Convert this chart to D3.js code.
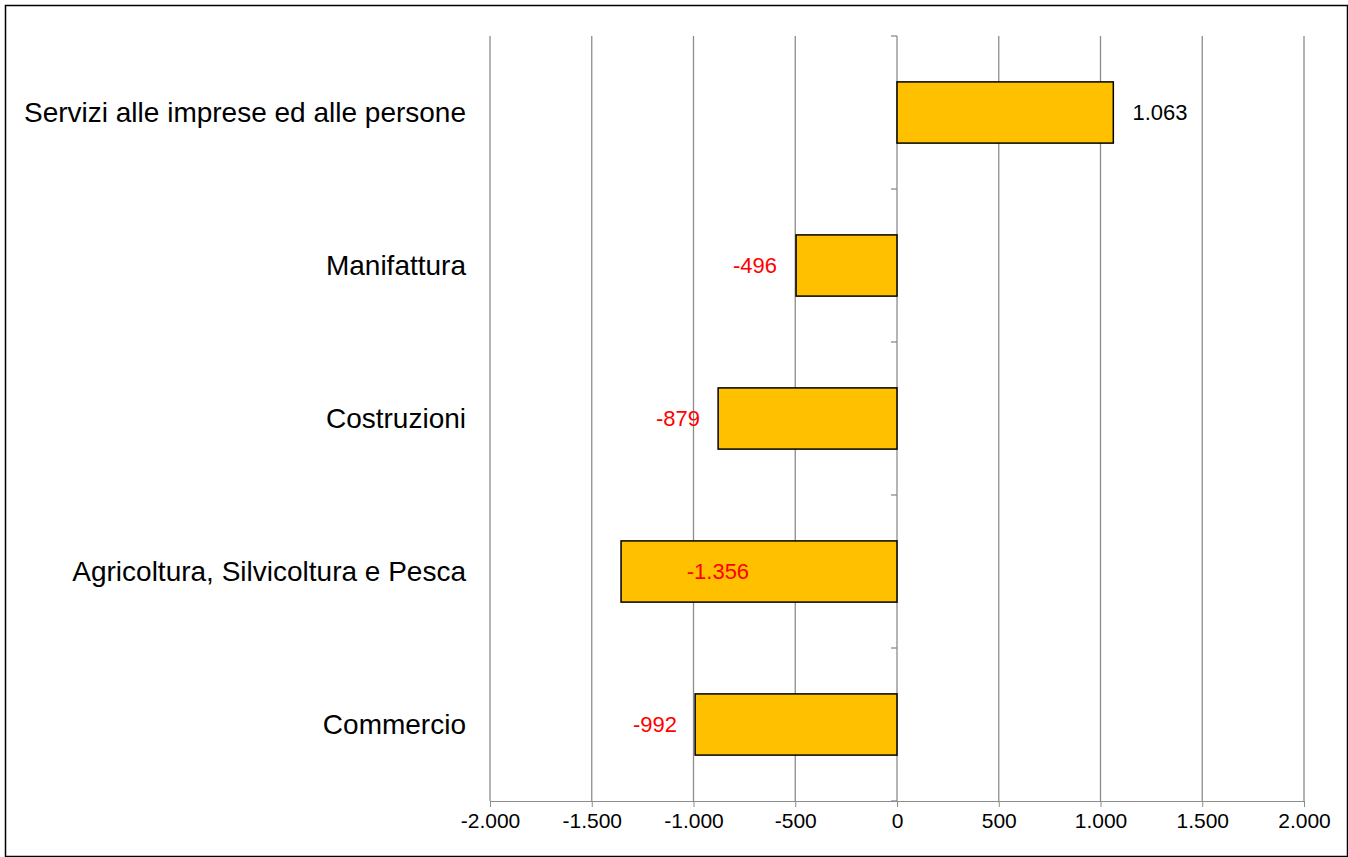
<!DOCTYPE html>
<html><head><meta charset="utf-8">
<script src="https://cdn.jsdelivr.net/npm/d3@7/dist/d3.min.js"></script>
<style>body{margin:0;background:#fff}svg{display:block}text{font-family:"Liberation Sans",Arial,sans-serif}</style>
</head><body><div id="chart"></div>
<script>
// ── dati ────────────────────────────────────────────
const categories = ["Servizi alle imprese ed alle persone", "Manifattura", "Costruzioni",
                    "Agricoltura, Silvicoltura e Pesca", "Commercio"];
const values     = [1063, -496, -879, -1356, -992];
const labelText  = ["1.063", "-496", "-879", "-1.356", "-992"];
// centro etichetta in unità dati
const labelAt    = [1292, -698, -1076, -880, -1189];
const ticks      = [-2000, -1500, -1000, -500, 0, 500, 1000, 1500, 2000];

const W = 1348, H = 857;
const svg = d3.select("#chart").append("svg").attr("width", W).attr("height", H);
svg.append("rect").attr("x", 5.5).attr("y", 5.5).attr("width", W - 6).attr("height", H - 6)
   .attr("fill", "none").attr("stroke", "#000").attr("stroke-width", 1.5);

const x = d3.scaleLinear().domain([-2000, 2000]).range([490, 1304]);
const y = d3.scaleBand().domain(categories).range([36, 801]).paddingInner(0.6).paddingOuter(0.3);
const fmt = d => d3.format(",")(d).replace(/,/g, ".").replace("\u2212", "-");

// griglia
svg.append("g").selectAll("line").data(ticks).enter().append("line")
   .attr("x1", d => x(d)).attr("x2", d => x(d)).attr("y1", 36).attr("y2", 801)
   .attr("stroke", "#8c8c8c").attr("stroke-width", 1.3);

// asse x
const xa = svg.append("g").attr("transform", "translate(0,801)")
   .call(d3.axisBottom(x).tickValues(ticks).tickFormat(fmt).tickSize(6).tickSizeOuter(0));
xa.select(".domain").attr("stroke", "#8c8c8c");
xa.selectAll("line").attr("stroke", "#8c8c8c");
xa.selectAll("text").attr("font-size", 21).attr("fill", "#000").attr("dy", "0.85em");

// asse categorie (a zero)
const step = (801 - 36) / categories.length;
svg.append("g").selectAll("line").data(d3.range(categories.length + 1)).enter().append("line")
   .attr("x1", x(0) - 6).attr("x2", x(0)).attr("y1", i => 36 + i * step).attr("y2", i => 36 + i * step)
   .attr("stroke", "#8c8c8c").attr("stroke-width", 1.3);

// barre
svg.append("g").selectAll("rect").data(values).enter().append("rect")
   .attr("x", d => x(Math.min(0, d))).attr("width", d => Math.abs(x(d) - x(0)))
   .attr("y", (d, i) => y(categories[i])).attr("height", y.bandwidth())
   .attr("fill", "#ffc000").attr("stroke", "#000").attr("stroke-width", 1.5);

// etichette valori
svg.append("g").selectAll("text").data(values).enter().append("text")
   .attr("x", (d, i) => x(labelAt[i])).attr("y", (d, i) => y(categories[i]) + y.bandwidth() / 2)
   .attr("dy", "0.35em").attr("text-anchor", "middle").attr("font-size", 22)
   .attr("fill", d => d < 0 ? "#ff0000" : "#000").text((d, i) => labelText[i]);

// etichette categorie
svg.append("g").selectAll("text").data(categories).enter().append("text")
   .attr("x", 466).attr("y", d => y(d) + y.bandwidth() / 2).attr("dy", "0.35em")
   .attr("text-anchor", "end").attr("font-size", 28).attr("fill", "#000").text(d => d);
</script></body></html>
